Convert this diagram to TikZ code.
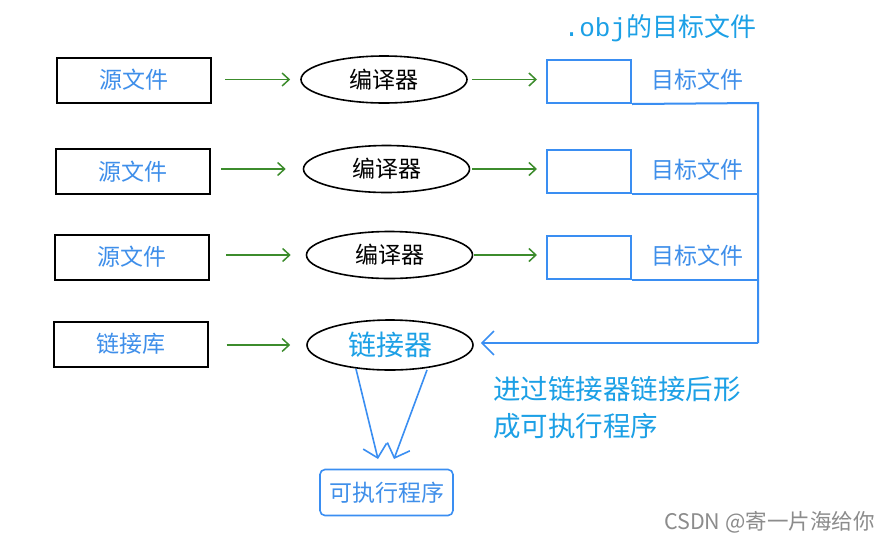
\documentclass[tikz,border=0pt]{standalone}
\usepackage{fontspec}
\setmainfont{Noto Sans CJK SC}
\newfontfamily\monof{Liberation Mono}
\usetikzlibrary{shapes.geometric,arrows.meta}
\definecolor{txtblue}{HTML}{3F8FEA}
\definecolor{lineblue}{HTML}{3A8EF2}
\definecolor{noteblue}{HTML}{1CA0E6}
\definecolor{arrgreen}{HTML}{3C8C2C}
\begin{document}
\begin{tikzpicture}[x=1pt,y=-1pt,
  srcbox/.style={draw=black,line width=2pt,minimum width=154pt,minimum height=45pt,inner sep=0pt,text=txtblue,font=\fontsize{23}{25}\selectfont},
  compell/.style={ellipse,draw=black,line width=1.6pt,minimum width=166pt,minimum height=47pt,inner sep=0pt,font=\fontsize{23}{25}\selectfont},
  objbox/.style={draw=lineblue,line width=2pt,minimum width=84pt,minimum height=43pt,inner sep=0pt},
  objlbl/.style={text=txtblue,font=\fontsize{23}{25}\selectfont,inner sep=0pt},
  garrow/.style={draw=arrgreen,line width=1.5pt,-{Straight Barb[length=7pt,width=13pt,line width=1.5pt]}},
  bline/.style={draw=lineblue,line width=2pt},
  barrow/.style={draw=lineblue,line width=1.6pt,-{Straight Barb[length=12pt,width=24pt,line width=1.6pt]}},
  note/.style={text=noteblue,font=\fontsize{27.5}{37}\selectfont,inner sep=0pt,anchor=west,align=left}
]
\useasboundingbox (0,0) rectangle (895,542);
\fill[white] (0,0) rectangle (895,542);
% source boxes
\node[srcbox] (s1) at (134,80) {源文件};
\node[srcbox] (s2) at (133,171.5) {源文件};
\node[srcbox] (s3) at (132,257) {源文件};
\node[srcbox] (s4) at (130.5,344) {链接库};
% ellipses
\node[compell] (c1) at (384,79.5) {编译器};
\node[compell] (c2) at (386.5,169) {编译器};
\node[compell] (c3) at (389.5,255) {编译器};
\node[compell,minimum height=50pt,text=noteblue,font=\fontsize{28}{30}\selectfont] (lk) at (390,345) {链接器};
% object boxes
\node[objbox] (o1) at (589,81.5) {};
\node[objbox] (o2) at (589,171.5) {};
\node[objbox] (o3) at (589,257.5) {};
\node[objlbl] (l1) at (697,80) {目标文件};
\node[objlbl] (l2) at (697,170) {目标文件};
\node[objlbl] (l3) at (697,256) {目标文件};
\node[text=noteblue,font=\fontsize{26}{28}\selectfont,inner sep=0pt] (obj) at (660,28) {{\monof .obj}的目标文件};
% green arrows
\draw[garrow,shorten <=13pt,shorten >=10pt] (s1.east |- c1) -- (c1.west);
\draw[garrow,shorten <=10pt,shorten >=17pt] (s2.east |- c2) -- (c2.west);
\draw[garrow,shorten <=16pt,shorten >=15pt] (s3.east |- c3) -- (c3.west);
\draw[garrow,shorten <=18pt,shorten >=16pt] (s4.east |- lk) -- (lk.west);
\draw[garrow,shorten <=4pt,shorten >=9pt] (c1.east) -- (o1.west |- c1);
\draw[garrow,shorten <=2pt,shorten >=9pt] (c2.east) -- (o2.west |- c2);
\draw[garrow,shorten <=1pt,shorten >=9pt] (c3.east) -- (o3.west |- c3);
% blue collector
\coordinate (j1) at (758,103);
\coordinate (j4) at (758,343);
\draw[bline] (o1.south east) -- (j1) -- (j4);
\draw[bline] (o2.south east) -- (o2.south east -| j1);
\draw[bline] (o3.south east) -- (o3.south east -| j1);
\draw[barrow,shorten >=7pt] (j4) -- (lk.east |- j4);
% linker to executable
\node[draw=lineblue,line width=1.6pt,rounded corners=5pt,minimum width=133pt,minimum height=46pt,inner sep=0pt,text=txtblue,font=\fontsize{23}{25}\selectfont] (ex) at (386.5,492.5) {可执行程序};
\coordinate (a1) at (356,369);
\coordinate (a2) at (427,370);
\coordinate (t1) at (378,459);
\coordinate (t2) at (394,459);
\draw[barrow] (a1) -- (t1);
\draw[barrow] (a2) -- (t2);
% note
\node[note] (nt) at (493,408) {进过链接器链接后形\\成可执行程序};
% watermark
\node[text=black!45,font=\fontsize{21.5}{23}\selectfont,inner sep=0pt,anchor=west] (wm) at (664,522) {CSDN @寄一片海给你};
\end{tikzpicture}
\end{document}
